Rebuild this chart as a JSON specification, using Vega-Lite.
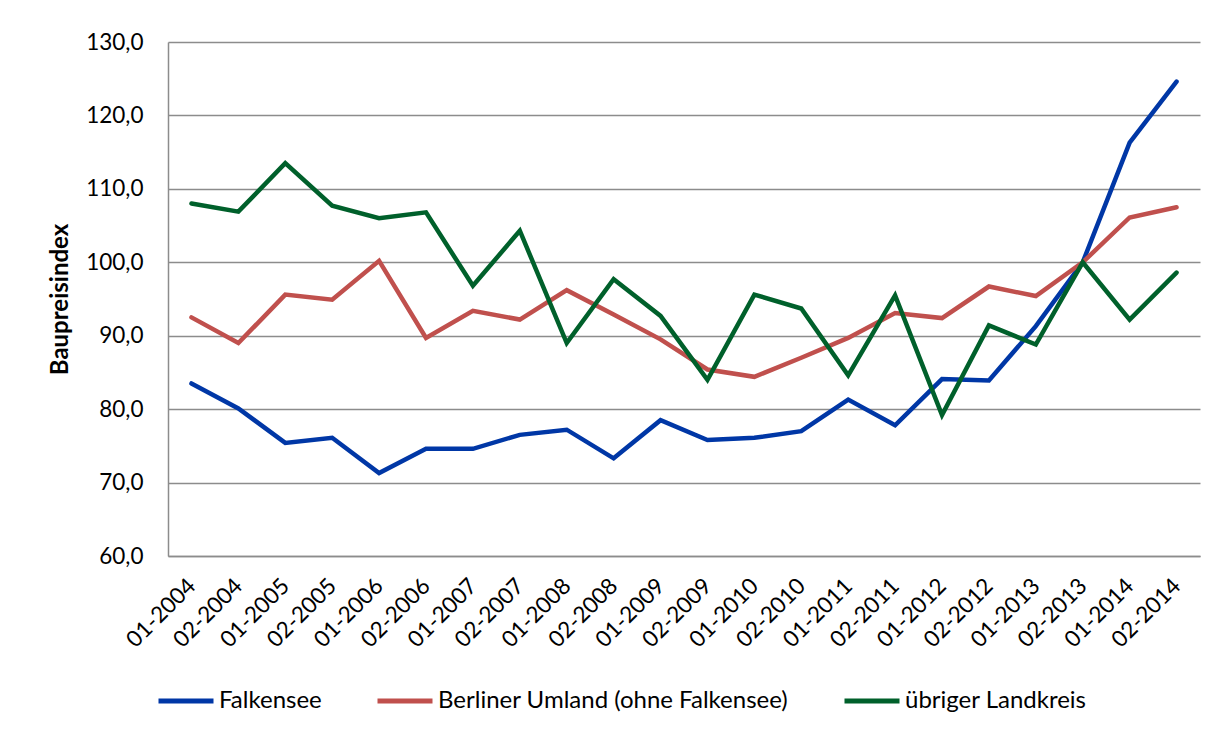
{
  "$schema": "https://vega.github.io/schema/vega-lite/v6.json",
  "width": 1032,
  "height": 514,
  "autosize": {"type": "none"},
  "padding": {"left": 168, "top": 42, "right": 19, "bottom": 177},
  "background": "white",
  "config": {
    "locale": {"number": {"decimal": ",", "thousands": ".", "grouping": [3], "currency": ["", " €"]}},
    "font": "Lato",
    "view": {"stroke": null}
  },
  "data": {
    "values": [
      {"period": "01-2004", "series": "Falkensee", "value": 83.5},
      {"period": "02-2004", "series": "Falkensee", "value": 80.1},
      {"period": "01-2005", "series": "Falkensee", "value": 75.4},
      {"period": "02-2005", "series": "Falkensee", "value": 76.1},
      {"period": "01-2006", "series": "Falkensee", "value": 71.3},
      {"period": "02-2006", "series": "Falkensee", "value": 74.6},
      {"period": "01-2007", "series": "Falkensee", "value": 74.6},
      {"period": "02-2007", "series": "Falkensee", "value": 76.5},
      {"period": "01-2008", "series": "Falkensee", "value": 77.2},
      {"period": "02-2008", "series": "Falkensee", "value": 73.3},
      {"period": "01-2009", "series": "Falkensee", "value": 78.5},
      {"period": "02-2009", "series": "Falkensee", "value": 75.8},
      {"period": "01-2010", "series": "Falkensee", "value": 76.1},
      {"period": "02-2010", "series": "Falkensee", "value": 77.0},
      {"period": "01-2011", "series": "Falkensee", "value": 81.3},
      {"period": "02-2011", "series": "Falkensee", "value": 77.8},
      {"period": "01-2012", "series": "Falkensee", "value": 84.1},
      {"period": "02-2012", "series": "Falkensee", "value": 83.9},
      {"period": "01-2013", "series": "Falkensee", "value": 91.3},
      {"period": "02-2013", "series": "Falkensee", "value": 100.0},
      {"period": "01-2014", "series": "Falkensee", "value": 116.3},
      {"period": "02-2014", "series": "Falkensee", "value": 124.6},
      {"period": "01-2004", "series": "Berliner Umland (ohne Falkensee)", "value": 92.5},
      {"period": "02-2004", "series": "Berliner Umland (ohne Falkensee)", "value": 89.0},
      {"period": "01-2005", "series": "Berliner Umland (ohne Falkensee)", "value": 95.6},
      {"period": "02-2005", "series": "Berliner Umland (ohne Falkensee)", "value": 94.9},
      {"period": "01-2006", "series": "Berliner Umland (ohne Falkensee)", "value": 100.2},
      {"period": "02-2006", "series": "Berliner Umland (ohne Falkensee)", "value": 89.7},
      {"period": "01-2007", "series": "Berliner Umland (ohne Falkensee)", "value": 93.4},
      {"period": "02-2007", "series": "Berliner Umland (ohne Falkensee)", "value": 92.2},
      {"period": "01-2008", "series": "Berliner Umland (ohne Falkensee)", "value": 96.2},
      {"period": "02-2008", "series": "Berliner Umland (ohne Falkensee)", "value": 92.9},
      {"period": "01-2009", "series": "Berliner Umland (ohne Falkensee)", "value": 89.5},
      {"period": "02-2009", "series": "Berliner Umland (ohne Falkensee)", "value": 85.4},
      {"period": "01-2010", "series": "Berliner Umland (ohne Falkensee)", "value": 84.4},
      {"period": "02-2010", "series": "Berliner Umland (ohne Falkensee)", "value": 87.0},
      {"period": "01-2011", "series": "Berliner Umland (ohne Falkensee)", "value": 89.7},
      {"period": "02-2011", "series": "Berliner Umland (ohne Falkensee)", "value": 93.1},
      {"period": "01-2012", "series": "Berliner Umland (ohne Falkensee)", "value": 92.4},
      {"period": "02-2012", "series": "Berliner Umland (ohne Falkensee)", "value": 96.7},
      {"period": "01-2013", "series": "Berliner Umland (ohne Falkensee)", "value": 95.4},
      {"period": "02-2013", "series": "Berliner Umland (ohne Falkensee)", "value": 100.0},
      {"period": "01-2014", "series": "Berliner Umland (ohne Falkensee)", "value": 106.1},
      {"period": "02-2014", "series": "Berliner Umland (ohne Falkensee)", "value": 107.5},
      {"period": "01-2004", "series": "übriger Landkreis", "value": 108.0},
      {"period": "02-2004", "series": "übriger Landkreis", "value": 106.9},
      {"period": "01-2005", "series": "übriger Landkreis", "value": 113.5},
      {"period": "02-2005", "series": "übriger Landkreis", "value": 107.7},
      {"period": "01-2006", "series": "übriger Landkreis", "value": 106.0},
      {"period": "02-2006", "series": "übriger Landkreis", "value": 106.8},
      {"period": "01-2007", "series": "übriger Landkreis", "value": 96.8},
      {"period": "02-2007", "series": "übriger Landkreis", "value": 104.3},
      {"period": "01-2008", "series": "übriger Landkreis", "value": 89.0},
      {"period": "02-2008", "series": "übriger Landkreis", "value": 97.7},
      {"period": "01-2009", "series": "übriger Landkreis", "value": 92.7},
      {"period": "02-2009", "series": "übriger Landkreis", "value": 84.0},
      {"period": "01-2010", "series": "übriger Landkreis", "value": 95.6},
      {"period": "02-2010", "series": "übriger Landkreis", "value": 93.7},
      {"period": "01-2011", "series": "übriger Landkreis", "value": 84.6},
      {"period": "02-2011", "series": "übriger Landkreis", "value": 95.5},
      {"period": "01-2012", "series": "übriger Landkreis", "value": 79.2},
      {"period": "02-2012", "series": "übriger Landkreis", "value": 91.4},
      {"period": "01-2013", "series": "übriger Landkreis", "value": 88.8},
      {"period": "02-2013", "series": "übriger Landkreis", "value": 100.0},
      {"period": "01-2014", "series": "übriger Landkreis", "value": 92.2},
      {"period": "02-2014", "series": "übriger Landkreis", "value": 98.6}
    ]
  },
  "mark": {"type": "line", "strokeWidth": 4.5, "strokeCap": "round", "strokeJoin": "miter"},
  "encoding": {
    "x": {
      "field": "period",
      "type": "ordinal",
      "sort": null,
      "scale": {"type": "point", "padding": 0.5},
      "axis": {
        "title": null,
        "labelAngle": -45,
        "labelAlign": "right",
        "labelBaseline": "middle",
        "labelFont": "Lato",
        "labelFontSize": 22.5,
        "labelColor": "#000000",
        "labelPadding": 26,
        "ticks": false,
        "grid": false,
        "domainColor": "#8c8c8c",
        "domainWidth": 1.5
      }
    },
    "y": {
      "field": "value",
      "type": "quantitative",
      "scale": {"domain": [60, 130], "nice": false, "zero": false},
      "axis": {
        "title": "Baupreisindex",
        "titleFont": "Lato",
        "titleFontSize": 24,
        "titleFontWeight": "bold",
        "titleColor": "#000000",
        "titlePadding": 13,
        "values": [60, 70, 80, 90, 100, 110, 120, 130],
        "format": ".1f",
        "labelFont": "Lato",
        "labelFontSize": 22.5,
        "labelColor": "#000000",
        "labelPadding": 25,
        "ticks": false,
        "grid": true,
        "gridColor": "#8c8c8c",
        "gridWidth": 1.5,
        "domainColor": "#8c8c8c",
        "domainWidth": 1.5
      }
    },
    "color": {
      "field": "series",
      "type": "nominal",
      "scale": {
        "domain": ["Falkensee", "Berliner Umland (ohne Falkensee)", "übriger Landkreis"],
        "range": ["#0037a6", "#c0504d", "#00602b"]
      },
      "legend": {
        "title": null,
        "orient": "none",
        "direction": "horizontal",
        "legendX": -12,
        "legendY": 629,
        "symbolType": "stroke",
        "symbolSize": 3025,
        "symbolStrokeWidth": 5,
        "labelFont": "Lato",
        "labelFontSize": 24,
        "labelColor": "#000000",
        "labelOffset": 3,
        "columnPadding": 45,
        "labelLimit": 500
      }
    }
  }
}
